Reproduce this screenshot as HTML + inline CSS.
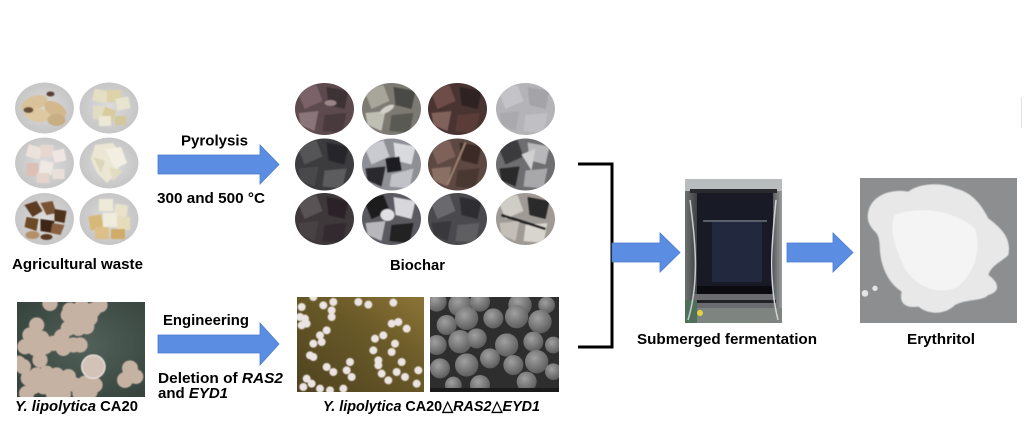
<!DOCTYPE html>
<html><head><meta charset="utf-8"><style>
html,body{margin:0;padding:0;background:#fff;width:1024px;height:445px;overflow:hidden}
svg{display:block}
text{font-family:"Liberation Sans",Arial,sans-serif;font-weight:bold;font-size:15px;fill:#000}
</style></head><body>
<svg width="1024" height="445" viewBox="0 0 1024 445" xmlns="http://www.w3.org/2000/svg">
<defs>
<clipPath id="ca"><ellipse cx="0" cy="0" rx="29.5" ry="25.5"/></clipPath>
<clipPath id="cb"><ellipse cx="0" cy="0" rx="29.5" ry="26"/></clipPath>
<clipPath id="cy"><rect x="17" y="302" width="128" height="95"/></clipPath>
<clipPath id="cc"><rect x="297" y="297" width="127" height="95"/></clipPath>
<clipPath id="cs"><rect x="430" y="297" width="129" height="95"/></clipPath>
<clipPath id="cf"><rect x="685" y="179" width="97" height="144"/></clipPath>
<clipPath id="ce"><rect x="860" y="178" width="157" height="145"/></clipPath>
<radialGradient id="plate" cx="50%" cy="50%" r="55%"><stop offset="0" stop-color="#dcdcdc"/><stop offset="1" stop-color="#c4c4c4"/></radialGradient>
<radialGradient id="ygr" cx="55%" cy="45%" r="65%"><stop offset="0" stop-color="#52605a"/><stop offset="1" stop-color="#38453f"/></radialGradient>
<linearGradient id="cgr" x1="0" y1="1" x2="1" y2="0"><stop offset="0" stop-color="#4e4320"/><stop offset="0.6" stop-color="#6a5a28"/><stop offset="1" stop-color="#8c7436"/></linearGradient>
<radialGradient id="sph" cx="40%" cy="35%" r="65%"><stop offset="0" stop-color="#a0a0a0"/><stop offset="1" stop-color="#5e5e5e"/></radialGradient>
<linearGradient id="fgr" x1="0" y1="0" x2="1" y2="0"><stop offset="0" stop-color="#6e7270"/><stop offset="0.12" stop-color="#3e4244"/><stop offset="0.25" stop-color="#16181e"/><stop offset="0.75" stop-color="#14161e"/><stop offset="0.88" stop-color="#44484c"/><stop offset="1" stop-color="#9a9e9e"/></linearGradient>
<filter id="soft"><feGaussianBlur stdDeviation="1.2"/></filter>
<filter id="soft2"><feGaussianBlur stdDeviation="0.6"/></filter>
</defs>

<!-- Agricultural waste circles -->
<g transform="translate(44.5,108)"><g clip-path="url(#ca)">
<ellipse rx="29.5" ry="25.5" fill="url(#plate)"/>
<g filter="url(#soft2)">
<ellipse cx="-8" cy="-8" rx="14" ry="7" fill="#d9c29a" transform="rotate(-20)"/>
<ellipse cx="10" cy="-4" rx="12" ry="7" fill="#d2b88c" transform="rotate(30)"/>
<ellipse cx="-6" cy="8" rx="13" ry="7" fill="#ddc8a2" transform="rotate(10)"/>
<ellipse cx="12" cy="12" rx="9" ry="6" fill="#c8ae82"/>
<ellipse cx="-16" cy="2" rx="5" ry="3" fill="#6a5038"/>
<ellipse cx="6" cy="-14" rx="4" ry="2.5" fill="#5a4030"/>
</g></g></g>
<g transform="translate(109,108)"><g clip-path="url(#ca)">
<ellipse rx="29.5" ry="25.5" fill="url(#plate)"/>
<g filter="url(#soft2)">
<rect x="-18" y="-16" width="14" height="12" fill="#e4dec4" transform="rotate(12)"/>
<rect x="-2" y="-18" width="14" height="12" fill="#ddd2a8"/>
<rect x="8" y="-8" width="13" height="12" fill="#e8e4d0" transform="rotate(-10)"/>
<rect x="-16" y="-2" width="13" height="13" fill="#e2dcc4"/>
<rect x="-4" y="0" width="12" height="12" fill="#d8cc9c" transform="rotate(20)"/>
<rect x="-10" y="8" width="12" height="10" fill="#ece8d6"/>
<rect x="6" y="8" width="11" height="9" fill="#d4c898"/>
</g></g></g>
<g transform="translate(44.5,163)"><g clip-path="url(#ca)">
<ellipse rx="29.5" ry="25.5" fill="url(#plate)"/>
<g filter="url(#soft2)">
<rect x="-20" y="-14" width="14" height="12" fill="#ebe2dc" transform="rotate(15)"/>
<rect x="-4" y="-18" width="13" height="12" fill="#e6d8d0"/>
<rect x="10" y="-10" width="12" height="12" fill="#eee6e2" transform="rotate(-12)"/>
<rect x="-18" y="0" width="12" height="13" fill="#dcc0b4"/>
<rect x="-4" y="-2" width="13" height="13" fill="#efe8e4" transform="rotate(10)"/>
<rect x="-8" y="10" width="13" height="10" fill="#e4d4cc"/>
<rect x="8" y="6" width="12" height="10" fill="#eadfda"/>
</g></g></g>
<g transform="translate(109,163)"><g clip-path="url(#ca)">
<ellipse rx="29.5" ry="25.5" fill="url(#plate)"/>
<g filter="url(#soft2)">
<path d="M-14,-18 L4,-20 L14,-6 L8,10 L-2,20 L-12,10 L-18,-4 Z" fill="#ebe7d4"/>
<path d="M-4,-14 L12,-16 L18,0 L6,6 Z" fill="#f2efe2"/>
<path d="M-16,-6 L-4,-2 L-8,10 Z" fill="#ddd6bc"/>
<path d="M0,4 L14,8 L4,18 Z" fill="#e2dcc2"/>
</g></g></g>
<g transform="translate(44.5,219)"><g clip-path="url(#cb)">
<ellipse rx="29.5" ry="26" fill="url(#plate)"/>
<g filter="url(#soft2)">
<path d="M-20,-14 L-8,-18 L-2,-8 L-12,-2 Z" fill="#5c3a22"/>
<path d="M-4,-16 L8,-18 L12,-6 L2,-4 Z" fill="#7a5234"/>
<path d="M10,-10 L22,-8 L20,4 L10,2 Z" fill="#4e321e"/>
<path d="M-18,-2 L-6,0 L-8,12 L-20,8 Z" fill="#6e4828"/>
<path d="M-4,0 L10,2 L8,14 L-4,12 Z" fill="#3e2616"/>
<path d="M8,4 L20,6 L16,16 L6,14 Z" fill="#8a6040"/>
<ellipse cx="-12" cy="16" rx="7" ry="4" fill="#b49068"/>
<ellipse cx="2" cy="18" rx="6" ry="3" fill="#5a3822"/>
</g></g></g>
<g transform="translate(109,219)"><g clip-path="url(#cb)">
<ellipse rx="29.5" ry="26" fill="url(#plate)"/>
<g filter="url(#soft2)">
<rect x="-10" y="-20" width="14" height="12" fill="#eeead8"/>
<rect x="4" y="-16" width="13" height="12" fill="#e8e2c8" transform="rotate(8)"/>
<rect x="-20" y="-6" width="13" height="14" fill="#d6b878" transform="rotate(-10)"/>
<rect x="-6" y="-6" width="14" height="14" fill="#f0ecdc"/>
<rect x="8" y="-2" width="13" height="13" fill="#e6dcbc"/>
<rect x="-14" y="8" width="14" height="12" fill="#dcc088"/>
<rect x="2" y="10" width="14" height="10" fill="#d0ac68"/>
</g></g></g>

<text x="12" y="269" textLength="131" lengthAdjust="spacingAndGlyphs">Agricultural waste</text>

<!-- Pyrolysis arrow -->
<polygon points="158,155 260,155 260,145 279,164.5 260,184 260,174 158,174" fill="#5b8ee2" stroke="#4a7ad0" stroke-width="0.8"/>
<text x="181" y="145.5" textLength="67" lengthAdjust="spacingAndGlyphs">Pyrolysis</text>
<text x="157" y="203" textLength="108" lengthAdjust="spacingAndGlyphs">300 and 500 °C</text>

<!-- Biochar circles -->
<g transform="translate(324.5,109)"><g clip-path="url(#cb)"><rect x="-30" y="-27" width="60" height="54" fill="#5c4a4e"/>
<g filter="url(#soft2)"><polygon points="-28,-20 -8,-24 -2,-8 -20,0" fill="#7a6268"/><polygon points="2,-22 24,-18 20,0 4,-4" fill="#3e3034"/><polygon points="-26,4 -6,2 -10,22 -24,16" fill="#8a7478"/><polygon points="0,6 22,4 18,24 -2,22" fill="#4a3a3c"/><ellipse cx="6" cy="-6" rx="6" ry="3" fill="#9a8488"/></g></g></g>
<g transform="translate(391.5,109)"><g clip-path="url(#cb)"><rect x="-30" y="-27" width="60" height="54" fill="#7c7a72"/>
<g filter="url(#soft2)"><polygon points="-28,-20 -8,-24 -2,-8 -20,0" fill="#a8a69a"/><polygon points="2,-22 24,-18 20,0 4,-4" fill="#4a4a44"/><polygon points="-26,4 -6,2 -10,22 -24,16" fill="#c0bfb4"/><polygon points="0,6 22,4 18,24 -2,22" fill="#5a5a54"/><ellipse cx="-4" cy="-2" rx="8" ry="3" fill="#d0d0c8" transform="rotate(-30)"/></g></g></g>
<g transform="translate(457.5,109)"><g clip-path="url(#cb)"><rect x="-30" y="-27" width="60" height="54" fill="#4a3432"/>
<g filter="url(#soft2)"><polygon points="-28,-20 -8,-24 -2,-8 -20,0" fill="#6e4e48"/><polygon points="2,-22 24,-18 20,0 4,-4" fill="#2e2222"/><polygon points="-26,4 -6,2 -10,22 -24,16" fill="#80625a"/><polygon points="0,6 22,4 18,24 -2,22" fill="#5a3e38"/></g></g></g>
<g transform="translate(525.5,109)"><g clip-path="url(#cb)"><rect x="-30" y="-27" width="60" height="54" fill="#b4b4b8"/>
<g filter="url(#soft2)"><polygon points="-28,-20 -8,-24 -2,-8 -20,0" fill="#c4c4c8"/><polygon points="2,-22 24,-18 20,0 4,-4" fill="#a4a4a8"/><polygon points="-26,4 -6,2 -10,22 -24,16" fill="#aaaaae"/><polygon points="0,6 22,4 18,24 -2,22" fill="#c0c0c4"/></g></g></g>

<g transform="translate(324.5,164.5)"><g clip-path="url(#cb)"><rect x="-30" y="-27" width="60" height="54" fill="#3c3c3e"/>
<g filter="url(#soft2)"><polygon points="-28,-20 -8,-24 -2,-8 -20,0" fill="#555558"/><polygon points="2,-22 24,-18 20,0 4,-4" fill="#28282a"/><polygon points="-26,4 -6,2 -10,22 -24,16" fill="#4a4a4c"/><polygon points="0,6 22,4 18,24 -2,22" fill="#5c5c5e"/></g></g></g>
<g transform="translate(391.5,164.5)"><g clip-path="url(#cb)"><rect x="-30" y="-27" width="60" height="54" fill="#8e9096"/>
<g filter="url(#soft2)"><polygon points="-28,-20 -8,-24 -2,-8 -20,0" fill="#c8cad0"/><polygon points="2,-22 24,-18 20,0 4,-4" fill="#d8dade"/><polygon points="-6,-6 8,-8 10,6 -4,8" fill="#1e1e22"/><polygon points="-26,4 -6,2 -10,22 -24,16" fill="#2a2a2e"/><polygon points="0,10 22,4 18,24 -2,22" fill="#c0c2c8"/></g></g></g>
<g transform="translate(457.5,164.5)"><g clip-path="url(#cb)"><rect x="-30" y="-27" width="60" height="54" fill="#5e4842"/>
<g filter="url(#soft2)"><polygon points="-28,-20 -8,-24 -2,-8 -20,0" fill="#7e625a"/><polygon points="2,-22 24,-18 20,0 4,-4" fill="#3a2c28"/><polygon points="-26,4 -6,2 -10,22 -24,16" fill="#8a7064"/><polygon points="0,6 22,4 18,24 -2,22" fill="#4a3830"/><line x1="-10" y1="20" x2="8" y2="-22" stroke="#9a8070" stroke-width="2"/></g></g></g>
<g transform="translate(525.5,164.5)"><g clip-path="url(#cb)"><rect x="-30" y="-27" width="60" height="54" fill="#6e6e70"/>
<g filter="url(#soft2)"><polygon points="-28,-20 -8,-24 -2,-8 -20,0" fill="#3a3a3c"/><polygon points="2,-22 24,-18 20,0 4,-4" fill="#b8b8ba"/><polygon points="-26,4 -6,2 -10,22 -24,16" fill="#2a2a2c"/><polygon points="0,6 22,4 18,24 -2,22" fill="#a8a8aa"/><polygon points="-4,-10 10,-16 6,6" fill="#d0d0d0"/></g></g></g>

<g transform="translate(324.5,219)"><g clip-path="url(#cb)"><rect x="-30" y="-27" width="60" height="54" fill="#3e383a"/>
<g filter="url(#soft2)"><polygon points="-28,-20 -8,-24 -2,-8 -20,0" fill="#5a5254"/><polygon points="2,-22 24,-18 20,0 4,-4" fill="#2a2426"/><polygon points="-26,4 -6,2 -10,22 -24,16" fill="#4a4244"/><polygon points="0,6 22,4 18,24 -2,22" fill="#322c2e"/></g></g></g>
<g transform="translate(391.5,219)"><g clip-path="url(#cb)"><rect x="-30" y="-27" width="60" height="54" fill="#5a5a60"/>
<g filter="url(#soft2)"><polygon points="-28,-20 -8,-24 -2,-8 -20,0" fill="#1a1a1e"/><polygon points="2,-22 24,-18 20,0 4,-4" fill="#d8d8dc"/><polygon points="-26,4 -6,2 -10,22 -24,16" fill="#b8b8bc"/><polygon points="0,6 22,4 18,24 -2,22" fill="#202024"/><ellipse cx="-4" cy="-4" rx="7" ry="6" fill="#e0e0e4"/></g></g></g>
<g transform="translate(457.5,219)"><g clip-path="url(#cb)"><rect x="-30" y="-27" width="60" height="54" fill="#4a4a4e"/>
<g filter="url(#soft2)"><polygon points="-28,-20 -8,-24 -2,-8 -20,0" fill="#6a6a6e"/><polygon points="2,-22 24,-18 20,0 4,-4" fill="#2e2e32"/><polygon points="-26,4 -6,2 -10,22 -24,16" fill="#38383c"/><polygon points="0,6 22,4 18,24 -2,22" fill="#5e5e62"/></g></g></g>
<g transform="translate(525.5,219)"><g clip-path="url(#cb)"><rect x="-30" y="-27" width="60" height="54" fill="#a09a96"/>
<g filter="url(#soft2)"><polygon points="-28,-20 -8,-24 -2,-8 -20,0" fill="#d0ccc6"/><polygon points="2,-22 24,-18 20,0 4,-4" fill="#2a2a2a"/><polygon points="-26,4 -6,2 -10,22 -24,16" fill="#c4beb8"/><polygon points="0,6 22,4 18,24 -2,22" fill="#d8d4ce"/><line x1="-24" y1="-4" x2="20" y2="10" stroke="#222" stroke-width="2.5"/></g></g></g>

<text x="390" y="270" textLength="55" lengthAdjust="spacingAndGlyphs">Biochar</text>

<!-- Yeast CA20 photo -->
<g clip-path="url(#cy)">
<rect x="17" y="302" width="128" height="95" fill="url(#ygr)"/>
<g transform="translate(10,295) scale(0.33333)" fill="#c6b2a2" filter="url(#soft)">
<circle cx="120" cy="25" r="23"/><circle cx="180" cy="45" r="23"/><circle cx="215" cy="35" r="23"/><circle cx="250" cy="45" r="23"/><circle cx="270" cy="30" r="23"/><circle cx="175" cy="60" r="23"/><circle cx="205" cy="70" r="23"/><circle cx="240" cy="70" r="23"/><circle cx="80" cy="90" r="23"/><circle cx="60" cy="120" r="23"/><circle cx="95" cy="130" r="23"/><circle cx="130" cy="145" r="23"/><circle cx="155" cy="125" r="23"/><circle cx="175" cy="100" r="23"/><circle cx="205" cy="100" r="23"/><circle cx="230" cy="95" r="23"/><circle cx="45" cy="155" r="23"/><circle cx="75" cy="160" r="23"/><circle cx="105" cy="155" r="23"/><circle cx="160" cy="160" r="23"/><circle cx="190" cy="150" r="23"/><circle cx="210" cy="150" r="23"/><circle cx="90" cy="195" r="23"/><circle cx="40" cy="215" r="23"/><circle cx="25" cy="205" r="23"/><circle cx="55" cy="250" r="23"/><circle cx="80" cy="240" r="23"/><circle cx="110" cy="235" r="23"/><circle cx="140" cy="240" r="23"/><circle cx="175" cy="245" r="23"/><circle cx="70" cy="275" r="23"/><circle cx="100" cy="275" r="23"/><circle cx="135" cy="270" r="23"/><circle cx="165" cy="270" r="23"/><circle cx="195" cy="270" r="23"/><circle cx="225" cy="265" r="23"/><circle cx="255" cy="270" r="23"/><circle cx="50" cy="295" r="23"/><circle cx="210" cy="295" r="23"/><circle cx="240" cy="290" r="23"/><circle cx="130" cy="295" r="23"/><circle cx="160" cy="298" r="23"/>
<circle cx="360" cy="220" r="24"/><circle cx="345" cy="255" r="24"/><circle cx="378" cy="245" r="22"/>
<circle cx="250" cy="215" r="35" fill="#d2c2b8" stroke="#ece4e0" stroke-width="4"/>
</g>
</g>
<text x="15" y="411" textLength="123" lengthAdjust="spacingAndGlyphs"><tspan font-style="italic">Y. lipolytica</tspan> CA20</text>

<!-- Engineering arrow -->
<polygon points="158,335 260,335 260,323 279,344 260,365 260,353 158,353" fill="#5b8ee2" stroke="#4a7ad0" stroke-width="0.8"/>
<text x="163" y="325" textLength="86" lengthAdjust="spacingAndGlyphs">Engineering</text>
<text x="158" y="383" textLength="125" lengthAdjust="spacingAndGlyphs">Deletion of <tspan font-style="italic">RAS2</tspan></text>
<text x="158" y="398">and <tspan font-style="italic">EYD1</tspan></text>

<!-- Colony photo -->
<g clip-path="url(#cc)">
<rect x="297" y="297" width="127" height="95" fill="url(#cgr)"/>
<g transform="translate(290,292) scale(0.33333)" fill="#ece4e2" filter="url(#soft)">
<circle cx="35" cy="45" r="12"/><circle cx="30" cy="75" r="12"/><circle cx="45" cy="80" r="12"/><circle cx="35" cy="100" r="12"/><circle cx="50" cy="95" r="12"/><circle cx="100" cy="40" r="12"/><circle cx="130" cy="30" r="12"/><circle cx="125" cy="55" r="12"/><circle cx="125" cy="75" r="12"/><circle cx="70" cy="15" r="12"/><circle cx="205" cy="30" r="12"/><circle cx="235" cy="38" r="12"/><circle cx="310" cy="32" r="12"/><circle cx="305" cy="95" r="12"/><circle cx="325" cy="90" r="12"/><circle cx="350" cy="110" r="12"/><circle cx="110" cy="115" r="12"/><circle cx="90" cy="130" r="12"/><circle cx="95" cy="150" r="12"/><circle cx="70" cy="155" r="12"/><circle cx="60" cy="190" r="12"/><circle cx="70" cy="195" r="12"/><circle cx="255" cy="140" r="12"/><circle cx="280" cy="130" r="12"/><circle cx="250" cy="175" r="12"/><circle cx="315" cy="155" r="12"/><circle cx="305" cy="180" r="12"/><circle cx="110" cy="225" r="12"/><circle cx="130" cy="240" r="12"/><circle cx="180" cy="210" r="12"/><circle cx="170" cy="235" r="12"/><circle cx="185" cy="255" r="12"/><circle cx="265" cy="205" r="12"/><circle cx="265" cy="220" r="12"/><circle cx="335" cy="210" r="12"/><circle cx="275" cy="245" r="12"/><circle cx="295" cy="265" r="12"/><circle cx="320" cy="240" r="12"/><circle cx="345" cy="255" r="12"/><circle cx="385" cy="235" r="12"/><circle cx="380" cy="275" r="12"/><circle cx="50" cy="260" r="12"/><circle cx="65" cy="275" r="12"/><circle cx="40" cy="285" r="12"/><circle cx="90" cy="290" r="12"/><circle cx="160" cy="290" r="12"/><circle cx="120" cy="295" r="12"/>
</g>
</g>

<!-- SEM photo -->
<g clip-path="url(#cs)">
<rect x="430" y="297" width="129" height="95" fill="#2e2e2e"/>
<g transform="translate(280,285) scale(0.33333)" fill="url(#sph)">
<circle cx="470" cy="50" r="30"/><circle cx="540" cy="60" r="35"/><circle cx="600" cy="50" r="30"/><circle cx="720" cy="60" r="35"/><circle cx="800" cy="60" r="25"/><circle cx="500" cy="120" r="30"/><circle cx="560" cy="100" r="35"/><circle cx="640" cy="100" r="30"/><circle cx="710" cy="95" r="35"/><circle cx="780" cy="110" r="35"/><circle cx="470" cy="180" r="30"/><circle cx="540" cy="170" r="35"/><circle cx="590" cy="160" r="30"/><circle cx="680" cy="180" r="35"/><circle cx="760" cy="170" r="30"/><circle cx="820" cy="180" r="25"/><circle cx="480" cy="250" r="30"/><circle cx="560" cy="240" r="35"/><circle cx="630" cy="220" r="30"/><circle cx="700" cy="240" r="30"/><circle cx="770" cy="230" r="35"/><circle cx="820" cy="260" r="25"/><circle cx="520" cy="300" r="25"/><circle cx="600" cy="300" r="30"/><circle cx="740" cy="290" r="30"/>
</g>
<rect x="430" y="388" width="129" height="4" fill="#1a1a1a"/>
</g>

<text x="323" y="411" textLength="217" lengthAdjust="spacingAndGlyphs"><tspan font-style="italic">Y. lipolytica</tspan> CA20△<tspan font-style="italic">RAS2</tspan>△<tspan font-style="italic">EYD1</tspan></text>

<!-- Bracket -->
<path d="M578,164 H612 V347 H578" fill="none" stroke="#000" stroke-width="3"/>

<!-- Arrow to fermenter -->
<polygon points="612,243 660,243 660,233 680,252.5 660,272 660,262 612,262" fill="#5b8ee2" stroke="#4a7ad0" stroke-width="0.8"/>

<!-- Fermenter photo -->
<g clip-path="url(#cf)">
<rect x="685" y="179" width="97" height="144" fill="url(#fgr)"/>
<rect x="685" y="179" width="97" height="12" fill="#b8bcbc"/>
<rect x="690" y="189" width="87" height="4" fill="#2a2a2e"/>
<rect x="697" y="193" width="76" height="96" fill="#181a26"/>
<rect x="712" y="222" width="50" height="60" fill="#22293e"/>
<rect x="703" y="220" width="64" height="2" fill="#5a5e68"/>
<rect x="697" y="286" width="76" height="8" fill="#0c0c10"/>
<rect x="694" y="294" width="82" height="14" fill="#6a6c70"/>
<rect x="694" y="300" width="82" height="3" fill="#222226"/>
<rect x="685" y="308" width="97" height="15" fill="#7e8480"/>
<rect x="685" y="300" width="12" height="23" fill="#4e705a"/>
<circle cx="700" cy="313" r="3" fill="#e8d040"/>
<path d="M690,200 C695,240 700,280 688,320" stroke="#c8cccc" stroke-width="1.5" fill="none"/>
<path d="M776,200 C772,240 768,280 778,320" stroke="#d0d4d4" stroke-width="1.5" fill="none"/>
</g>

<text x="637" y="344" textLength="180" lengthAdjust="spacingAndGlyphs">Submerged fermentation</text>

<!-- Arrow to erythritol -->
<polygon points="787,243 833,243 833,233 853,252.5 833,272 833,262 787,262" fill="#5b8ee2" stroke="#4a7ad0" stroke-width="0.8"/>

<!-- Erythritol photo -->
<g clip-path="url(#ce)">
<rect x="860" y="178" width="157" height="145" fill="#8c8e90"/>
<g transform="translate(855,175) scale(0.33333)">
<path d="M40,110 C50,60 110,40 160,50 C190,25 260,20 300,40 C350,50 380,90 400,130 C440,160 470,190 460,240 C440,260 410,270 400,300 C430,320 440,350 400,360 C380,380 340,370 300,390 C270,420 220,420 190,395 C160,400 130,390 140,350 C110,330 90,300 80,260 C70,220 80,190 60,170 C40,150 35,130 40,110 Z" fill="#e8e8e8" filter="url(#soft)"/>
<path d="M120,120 C200,90 300,110 360,160 C380,220 360,300 300,340 C240,360 180,330 150,280 C120,220 100,160 120,120 Z" fill="#f4f4f4" filter="url(#soft)"/>
<circle cx="30" cy="355" r="10" fill="#e4e4e4"/>
<circle cx="60" cy="340" r="8" fill="#e4e4e4"/>
</g>
</g>

<text x="907" y="344" textLength="68" lengthAdjust="spacingAndGlyphs">Erythritol</text>

<!-- faint edge line -->
<rect x="1021" y="97" width="1" height="31" fill="#e0e0e0"/>
</svg>
</body></html>
